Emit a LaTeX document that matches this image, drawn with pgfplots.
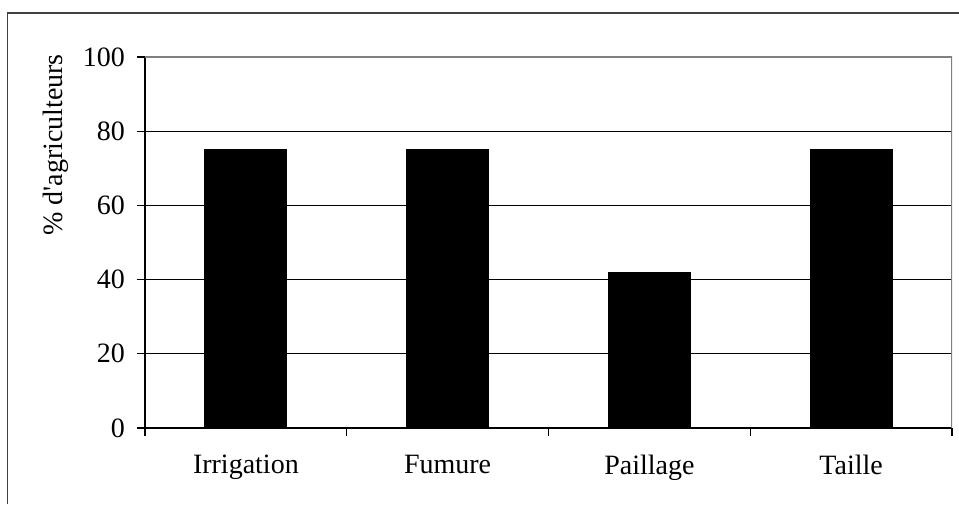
\documentclass[border=0pt]{standalone}
\usepackage{fontspec}
\setmainfont{Liberation Serif}
\usepackage{pgfplots}
\pgfplotsset{compat=1.18}
\begin{document}
\begin{tikzpicture}[x=1pt,y=1pt]
% outer frame (pixel -> pt: 0.5pt per px, axis origin at px (145,428))
\useasboundingbox (-72.5,-38) rectangle (407,214);
\draw[line width=0.8pt,black!75] (-68.75,-38) -- (-68.75,207.5) -- (407,207.5);
\begin{axis}[
    at={(0,0)}, anchor=south west,
    scale only axis,
    width=403.5pt, height=185.5pt,
    ybar,
    bar width=41pt,
    xmin=0.5, xmax=4.5,
    ymin=0, ymax=100,
    ytick={0,20,40,60,80,100},
    xtick={0.5,1.5,2.5,3.5,4.5},
    xticklabels={},
    extra x ticks={1,2,3,4},
    extra x tick labels={Irrigation,Fumure,Paillage,Taille},
    extra x tick style={major tick length=0pt, grid=none,
        xticklabel style={yshift=-10pt}},
    axis x line=bottom, axis y line=left,
    axis line style={-, black, line width=0.6pt},
    tick align=outside,
    major tick length=4pt,
    tick style={black, line width=0.6pt},
    ymajorgrids=true,
    grid style={black, line width=0.5pt},
    /pgf/number format/assume math mode=true,
    tick label style={font=\fontsize{14}{16}\selectfont},
    yticklabel style={xshift=-2.5pt},
    ylabel={\% d\textquotesingle agriculteurs},
    ylabel style={font=\fontsize{14}{16}\selectfont, at={(axis description cs:-0.11,0.763)}, anchor=center, rotate=0},
    enlarge x limits=false,
]
\addplot[fill=black, draw=black] coordinates {(1,75) (2,75) (3,42) (4,75)};
\draw[gray, line width=0.8pt] (rel axis cs:0,1) -- (rel axis cs:1,1) -- (rel axis cs:1,0);
\end{axis}
\end{tikzpicture}
\end{document}
